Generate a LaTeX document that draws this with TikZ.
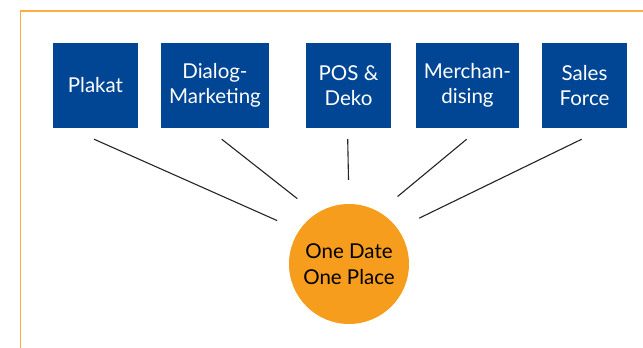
\documentclass[tikz,border=0pt]{standalone}
\usepackage{fontspec}
\setmainfont{Lato}

\definecolor{frameorange}{RGB}{250,176,64}
\definecolor{boxblue}{RGB}{0,70,148}
\definecolor{sunorange}{RGB}{247,157,30}
\definecolor{raygray}{RGB}{35,35,35}

\begin{document}
\begin{tikzpicture}[x=1pt, y=-1pt,
	channel/.style={fill=boxblue, text=white, minimum height=85pt,
	                inner sep=0pt, align=center,
	                font=\fontsize{20.5}{25.5}\selectfont},
	hub/.style={circle, fill=sunorange, minimum size=120pt, inner sep=0pt,
	            align=center, font=\fontsize{20.5}{26}\selectfont},
	ray/.style={draw=raygray, line width=1.1pt, shorten >=24pt}]
	\useasboundingbox (0,0) rectangle (643,348);

	% Frame
	\draw [frameorange, line width=1.5pt] (20.5,348) |- (643,11);

	% Channel boxes
	\foreach \name/\x/\w/\label in {
		plakat/95.5/85/Plakat,
		dialog/215/108/{Dialog-\\Marketing},
		pos/348.5/85/{POS \&\\Deko},
		merch/467.5/103/{Merchan-\\dising},
		sales/584.5/85/{Sales\\Force}}{
		\node (\name) at (\x,85.5)
		      [channel, minimum width=\w pt]
		      {\label};
	}

	% Centre circle
	\node (hub) at (349,264) [hub] {One Date\\One Place};

	% Rays from boxes to circle
	\foreach \name/\dx/\a in {plakat/-1.5/146, dialog/6.7/123, pos/-0.8/90,
	                          merch/-0.8/60, sales/-2.8/36}{
		\draw [ray] ([shift={(\dx,11)}] \name.south) -- (hub.\a);
	}
\end{tikzpicture}
\end{document}
